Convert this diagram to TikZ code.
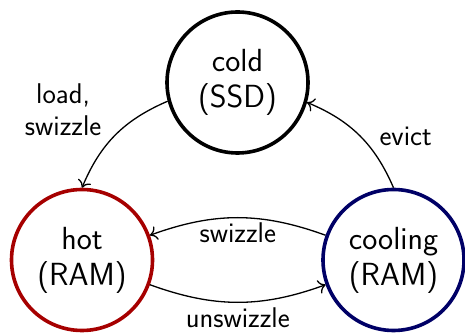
\documentclass[tikz,border=0pt]{standalone}
\usetikzlibrary{positioning}
\usetikzlibrary{arrows.meta}

\begin{document}
\begin{tikzpicture}
        [
            x=1pt, y=1pt,
            store/.style={circle, draw, line width=3.6pt, minimum size=141pt, inner sep=0pt, align=center, font=\sffamily\fontsize{32}{36}\selectfont},
            trans/.style={-{To[length=7pt, width=14pt]}, line width=1.3pt},
            lbl/.style={align=center, font=\sffamily\fontsize{28.5}{32}\selectfont}
        ]
        \useasboundingbox (0,0) rectangle (465,334);
        %nodes
        \node[store] at (237.5,251.5)                      (cold)      {cold\\(SSD)};
        \node[store, draw=red!65!black] at (82,74)         (hot)       {hot\\(RAM)};
        \node[store, draw=blue!40!black] at (393.5,74)     (cooling)   {cooling\\(RAM)};
        %arrows
        \draw[trans] (cold.195) to[bend right=22] node[lbl, midway, anchor=east, xshift=-10pt, yshift=25pt] {load,\\swizzle} (hot.north);
        \draw[trans] (cooling.north) to[bend right=22] node[lbl, midway, right=16pt, yshift=-1pt] {evict} (cold.-16);
        \draw[trans] (cooling) to[bend right=20] node[lbl, midway, below=1pt] {swizzle} (hot);
        \draw[trans] (hot) to[bend right=20] node[lbl, midway, below=1pt] {unswizzle} (cooling);
    \end{tikzpicture}
\end{document}
